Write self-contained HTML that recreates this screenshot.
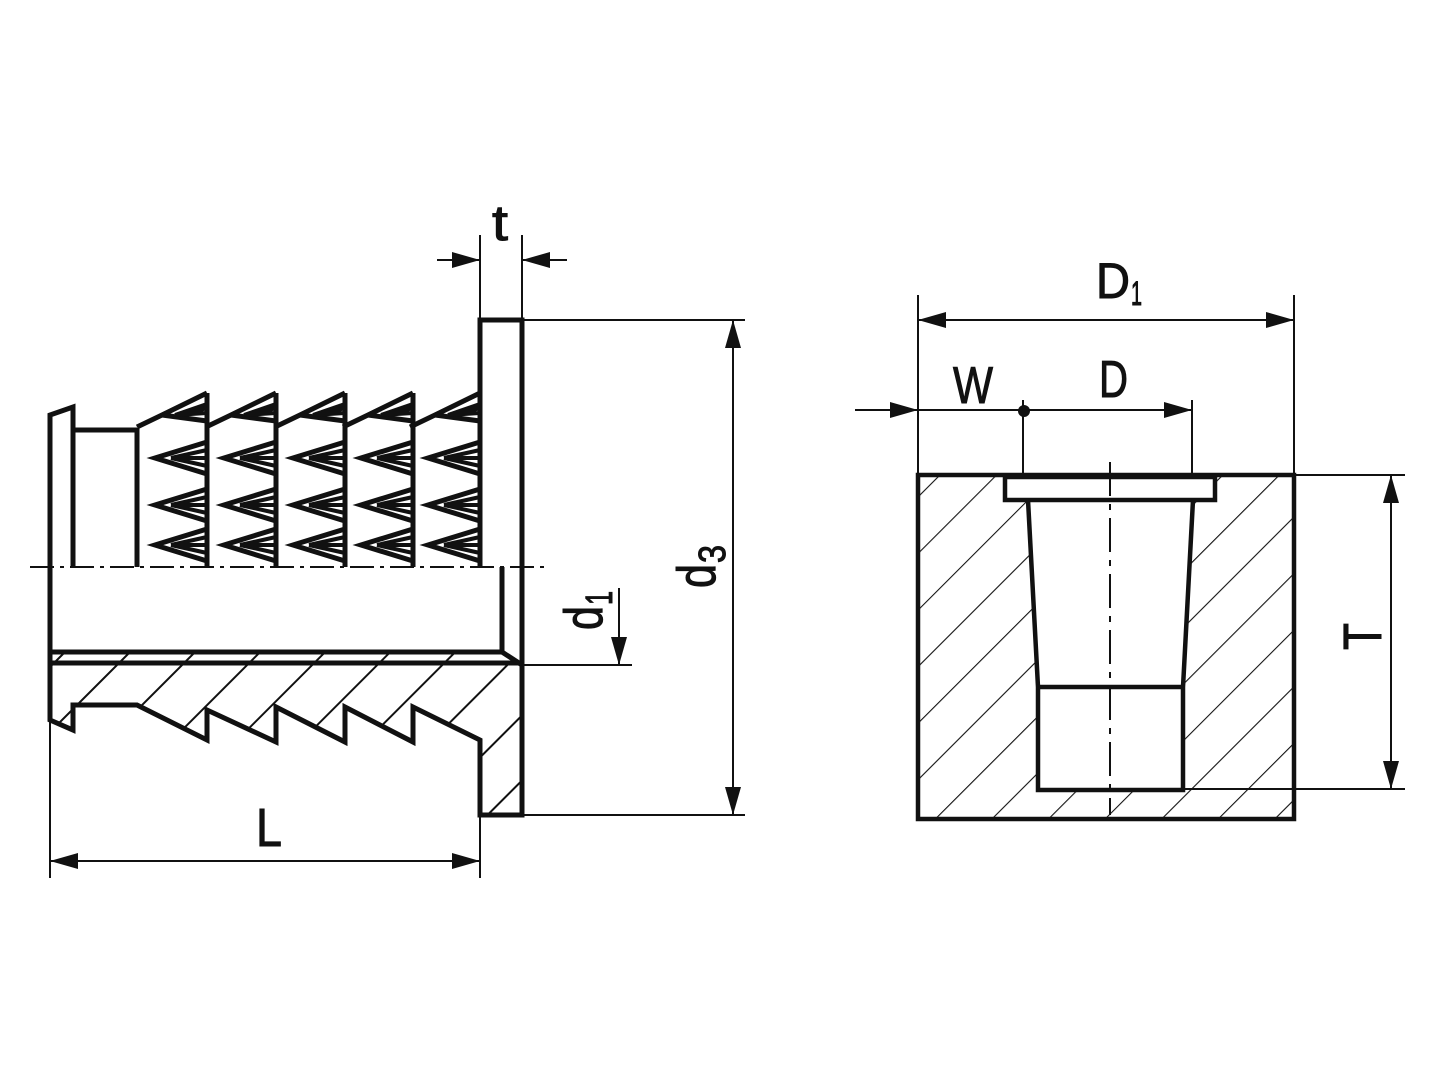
<!DOCTYPE html>
<html><head><meta charset="utf-8"><style>html,body{margin:0;padding:0;background:#fff}svg{display:block}</style></head>
<body>
<svg width="1440" height="1080" viewBox="0 0 1440 1080" xmlns="http://www.w3.org/2000/svg">
<defs>
<pattern id="h" patternUnits="userSpaceOnUse" width="46" height="46" patternTransform="rotate(45)">
<line x1="0" y1="0" x2="0" y2="46" stroke="#111" stroke-width="4"/>
</pattern>
<pattern id="h2" patternUnits="userSpaceOnUse" width="40" height="40" patternTransform="rotate(45)">
<line x1="0" y1="0" x2="0" y2="40" stroke="#111" stroke-width="2.2"/>
</pattern>
<g id="tooth" fill="none" stroke="#111" stroke-width="5" stroke-linejoin="miter">
<path d="M0,-16 L-52,0 L0,16"/>
<path d="M-36,0 L0,-8 M-36,0 L0,8 M-30,0 L0,0" stroke-width="4"/>
</g>
<g id="top" fill="none" stroke="#111" stroke-width="5">
<path d="M-70,34 L-45,22 L0,0"/>
<path d="M-45,22 L0,28" />
<path d="M-32,22 L0,11 M-32,22 L0,20 M-24,22 L0,15" stroke-width="4"/>
</g>
<marker id="a" markerWidth="30" markerHeight="16" refX="28" refY="8" orient="auto" markerUnits="userSpaceOnUse">
<path d="M0,0 L28,8 L0,16 Z" fill="#111"/>
</marker>
<marker id="as" markerWidth="30" markerHeight="16" refX="0" refY="8" orient="auto" markerUnits="userSpaceOnUse">
<path d="M28,0 L0,8 L28,16 Z" fill="#111"/>
</marker>
</defs>

<polygon points="50,663 518,663 522,666 522,815 480,815 480,740 413,707 413,742 345,707 345,742 276,707 276,742 207,710 207,740 137,705 73,705 73,730 50,720" fill="url(#h)"/>
<polygon points="50,652 502,652 518,663 50,663" fill="url(#h)"/>
<g fill="none" stroke="#111" stroke-width="5" stroke-linejoin="miter">
<polyline points="480,567 480,320 522,320 522,815 480,815 480,740 413,707 413,742 345,707 345,742 276,707 276,742 207,710 207,740 137,705 73,705 73,730 50,720 50,415 73,407 73,567"/>
<line x1="480" y1="740" x2="480" y2="815"/>
<line x1="73" y1="430" x2="137" y2="430"/>
<line x1="137" y1="428" x2="137" y2="567"/>
<line x1="207" y1="393" x2="207" y2="567"/>
<line x1="276" y1="393" x2="276" y2="567"/>
<line x1="345" y1="393" x2="345" y2="567"/>
<line x1="413" y1="393" x2="413" y2="567"/>
<polyline points="502,567 502,652 50,652"/>
<line x1="50" y1="663" x2="520" y2="663"/>
<line x1="502" y1="652" x2="522" y2="665"/>
</g>
<g>
<use href="#top" x="207" y="393"/><use href="#top" x="276" y="393"/><use href="#top" x="345" y="393"/><use href="#top" x="413" y="393"/><use href="#top" x="480" y="393"/>
<use href="#tooth" x="207" y="458"/><use href="#tooth" x="276" y="458"/><use href="#tooth" x="345" y="458"/><use href="#tooth" x="413" y="458"/><use href="#tooth" x="480" y="458"/>
<use href="#tooth" x="207" y="505"/><use href="#tooth" x="276" y="505"/><use href="#tooth" x="345" y="505"/><use href="#tooth" x="413" y="505"/><use href="#tooth" x="480" y="505"/>
<use href="#tooth" x="207" y="545"/><use href="#tooth" x="276" y="545"/><use href="#tooth" x="345" y="545"/><use href="#tooth" x="413" y="545"/><use href="#tooth" x="480" y="545"/>
</g>
<line x1="30" y1="567" x2="545" y2="567" stroke="#111" stroke-width="2" stroke-dasharray="24,6,4,6"/>

<g stroke="#111" stroke-width="2" fill="none">
<line x1="480" y1="235" x2="480" y2="320"/><line x1="522" y1="235" x2="522" y2="320"/>
<line x1="437" y1="260" x2="480" y2="260" marker-end="url(#a)"/>
<line x1="567" y1="260" x2="522" y2="260" marker-end="url(#a)"/>
<line x1="522" y1="320" x2="745" y2="320"/><line x1="522" y1="815" x2="745" y2="815"/>
<line x1="733" y1="320" x2="733" y2="815" marker-start="url(#as)" marker-end="url(#a)"/>
<line x1="522" y1="665" x2="632" y2="665"/>
<line x1="619" y1="588" x2="619" y2="665" marker-end="url(#a)"/>
<line x1="50" y1="720" x2="50" y2="878"/><line x1="480" y1="815" x2="480" y2="878"/>
<line x1="50" y1="861" x2="480" y2="861" marker-start="url(#as)" marker-end="url(#a)"/>
</g>
<g font-family="Liberation Sans, sans-serif" fill="#111" stroke="#111" stroke-width="1">
<text x="492" y="240" font-size="50" textLength="16" lengthAdjust="spacingAndGlyphs">t</text>
<text x="256" y="846" font-size="54" textLength="26" lengthAdjust="spacingAndGlyphs">L</text>
<g transform="translate(715,588) rotate(-90)"><text x="0" y="0" font-size="54" textLength="24" lengthAdjust="spacingAndGlyphs">d</text><text x="25" y="10" font-size="38" textLength="18" lengthAdjust="spacingAndGlyphs">3</text></g>
<g transform="translate(602,630) rotate(-90)"><text x="0" y="0" font-size="54" textLength="24" lengthAdjust="spacingAndGlyphs">d</text><text x="25" y="10" font-size="38" textLength="14" lengthAdjust="spacingAndGlyphs">1</text></g>
</g>

<path d="M918,475 H1294 V819 H918 Z M1005,477 H1215 V500 H1193 L1183,687 V790 H1037 V687 L1028,500 H1005 Z" fill="url(#h2)" fill-rule="evenodd"/>
<g fill="none" stroke="#111" stroke-width="4.5">
<rect x="918" y="475" width="376" height="344"/>
<rect x="1005" y="477" width="210" height="23" fill="#fff"/>
<polyline points="1028,500 1038,687 1038,790 1183,790 1183,687 1193,500"/>
<line x1="1036" y1="687" x2="1185" y2="687"/>
</g>
<line x1="1110" y1="462" x2="1110" y2="815" stroke="#111" stroke-width="2" stroke-dasharray="34,8,6,8"/>
<g stroke="#111" stroke-width="2" fill="none">
<line x1="918" y1="295" x2="918" y2="475"/><line x1="1294" y1="295" x2="1294" y2="475"/>
<line x1="918" y1="320" x2="1294" y2="320" marker-start="url(#as)" marker-end="url(#a)"/>
<line x1="855" y1="410" x2="918" y2="410" marker-end="url(#a)"/>
<line x1="918" y1="410" x2="1192" y2="410" marker-end="url(#a)"/>
<line x1="1023" y1="400" x2="1023" y2="477"/><line x1="1192" y1="400" x2="1192" y2="477"/>
<line x1="1294" y1="475" x2="1405" y2="475"/><line x1="1183" y1="789" x2="1405" y2="789"/>
<line x1="1391" y1="475" x2="1391" y2="789" marker-start="url(#as)" marker-end="url(#a)"/>
</g>
<circle cx="1024" cy="411" r="6" fill="#111"/>
<g font-family="Liberation Sans, sans-serif" fill="#111" stroke="#111" stroke-width="1">
<text x="1096" y="298" font-size="50" textLength="34" lengthAdjust="spacingAndGlyphs">D</text>
<text x="1131" y="305" font-size="34" textLength="11" lengthAdjust="spacingAndGlyphs">1</text>
<text x="953" y="403" font-size="52" textLength="40" lengthAdjust="spacingAndGlyphs">W</text>
<text x="1099" y="397" font-size="52" textLength="29" lengthAdjust="spacingAndGlyphs">D</text>
<g transform="translate(1381,650) rotate(-90)"><text x="0" y="0" font-size="54" textLength="27" lengthAdjust="spacingAndGlyphs">T</text></g>
</g>
</svg>
</body></html>
